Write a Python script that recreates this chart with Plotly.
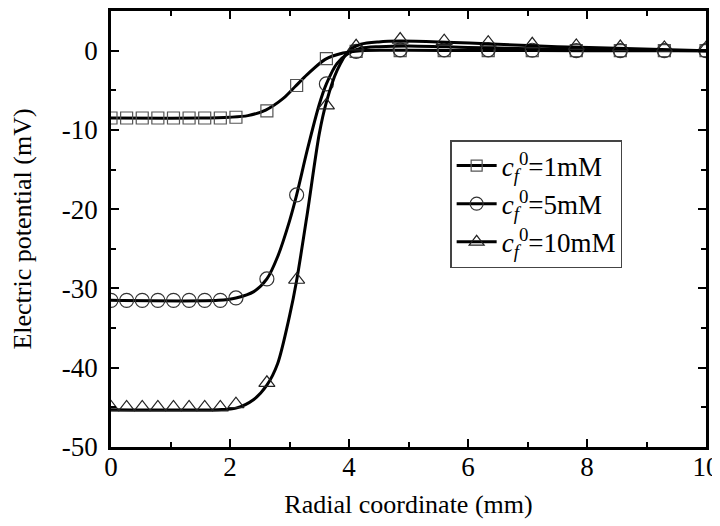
import plotly.graph_objects as go

# ---- data ----
x_markers = [0, 0.2625, 0.525, 0.7875, 1.05, 1.3125, 1.575, 1.8375, 2.1,
             2.62, 3.12, 3.62, 4.12, 4.86, 5.6, 6.34, 7.08, 7.82, 8.56, 9.3, 10.0]
y_1mM_markers = [-8.5, -8.5, -8.5, -8.5, -8.5, -8.5, -8.5, -8.5, -8.4,
                 -7.6, -4.4, -1.0, -0.1, 0.0, 0.0, 0.0, 0.0, 0.0, 0.0, 0.0, 0.0]
y_5mM_markers = [-31.5, -31.5, -31.5, -31.5, -31.5, -31.5, -31.5, -31.5, -31.2,
                 -28.8, -18.2, -4.2, -0.1, 0.1, 0.1, 0.1, 0.05, 0.0, 0.0, 0.0, 0.0]
y_10mM_markers = [-45.0, -45.0, -45.0, -45.0, -45.0, -45.0, -45.0, -45.0, -44.6,
                  -41.9, -28.9, -6.9, 0.55, 1.4, 1.2, 1.0, 0.8, 0.6, 0.45, 0.35, 0.3]

x_line_1mM = [0, 1.5, 2.0, 2.3, 2.6, 2.9, 3.1, 3.3, 3.6, 3.9, 4.2, 4.6, 5.0, 6.0, 8.0, 10.0]
y_line_1mM = [-8.5, -8.5, -8.4, -8.2, -7.5, -6.0, -4.5, -3.0, -1.1, -0.3, 0.0, 0.05, 0.05, 0.02, 0.0, 0.0]

x_line_5mM = [0, 1.8, 2.1, 2.4, 2.62, 2.8, 3.0, 3.12, 3.3, 3.5, 3.62, 3.8, 4.0, 4.2, 4.5, 5.0, 6.0, 7.0, 8.0, 9.0, 10.0]
y_line_5mM = [-31.5, -31.5, -31.2, -30.4, -28.8, -26.0, -21.5, -18.2, -12.5, -6.8, -4.2, -1.6, -0.3, 0.3, 0.5, 0.6, 0.4, 0.25, 0.12, 0.05, 0.0]

x_line_10mM = [0, 1.8, 2.1, 2.4, 2.62, 2.8, 3.0, 3.12, 3.3, 3.5, 3.62, 3.8, 4.0, 4.2, 4.5, 4.86, 5.5, 6.5, 7.5, 8.5, 10.0]
y_line_10mM = [-45.3, -45.3, -45.1, -44.0, -42.2, -39.5, -33.5, -29.0, -20.5, -10.5, -6.5, -2.5, 0.0, 0.8, 1.1, 1.2, 1.1, 0.8, 0.5, 0.3, 0.0]

series_names = ["<i>c</i><sub><i>f</i></sub><sup>0</sup>=1mM",
                "<i>c</i><sub><i>f</i></sub><sup>0</sup>=5mM",
                "<i>c</i><sub><i>f</i></sub><sup>0</sup>=10mM"]
x_ticks = [0, 2, 4, 6, 8, 10]
y_ticks = [0, -10, -20, -30, -40, -50]

FONT = "Liberation Serif, Times New Roman, serif"

series = [
    (x_line_1mM, y_line_1mM, y_1mM_markers, "square-open", 12, "#555555"),
    (x_line_5mM, y_line_5mM, y_5mM_markers, "circle-open", 14, "#333333"),
    (x_line_10mM, y_line_10mM, y_10mM_markers, "triangle-up-open", 14, "#222222"),
]

fig = go.Figure()
for (xl, yl, ym, sym, sz, mc), name in zip(series, series_names):
    fig.add_trace(go.Scatter(x=xl, y=yl, mode="lines", line=dict(color="black", width=3, shape="spline", smoothing=0.8),
                             showlegend=False, hoverinfo="skip"))
    fig.add_trace(go.Scatter(x=x_markers, y=ym, mode="markers",
                             marker=dict(symbol=sym, size=sz, color=mc, line=dict(width=1.2, color=mc)),
                             showlegend=False))
    fig.add_trace(go.Scatter(x=[None], y=[None], mode="lines+markers", name=name,
                             line=dict(color="black", width=3),
                             marker=dict(symbol=sym, size=sz - 1, color=mc, line=dict(width=1.2, color=mc))))

axis_common = dict(
    showline=True, linecolor="black", linewidth=2.5, mirror="ticks",
    ticks="inside", ticklen=8, tickwidth=2, tickcolor="black",
    showgrid=False, zeroline=False, automargin=False,
    tickfont=dict(family=FONT, size=27, color="black"),
)

fig.update_xaxes(range=[0, 10], tickvals=x_ticks, ticktext=[str(v) for v in x_ticks],
                 minor=dict(ticks="inside", ticklen=5, tickwidth=2, tickcolor="black", dtick=1, tick0=0),
                 title=dict(text="Radial coordinate (mm)", font=dict(family=FONT, size=26, color="black"), standoff=14),
                 ticklabelstandoff=-6,
                 **axis_common)
fig.update_yaxes(range=[-50, 5], tickvals=y_ticks, ticktext=[str(v) for v in y_ticks],
                 minor=dict(ticks="inside", ticklen=5, tickwidth=2, tickcolor="black", dtick=5, tick0=0),
                 title=dict(text="Electric potential (mV)", font=dict(family=FONT, size=26, color="black"), standoff=24),
                 ticklabelstandoff=5,
                 **axis_common)

fig.update_layout(
    width=712, height=518,
    margin=dict(l=103, r=14, t=3, b=79),
    plot_bgcolor="white", paper_bgcolor="white",
    font=dict(family=FONT, color="black"),
    legend=dict(x=0.57, y=0.704, xanchor="left", yanchor="top",
                bgcolor="white", bordercolor="#444444", borderwidth=1.5,
                font=dict(family=FONT, size=27, color="black"),
                tracegroupgap=0, itemwidth=40),
)

fig.write_html("out.html")
